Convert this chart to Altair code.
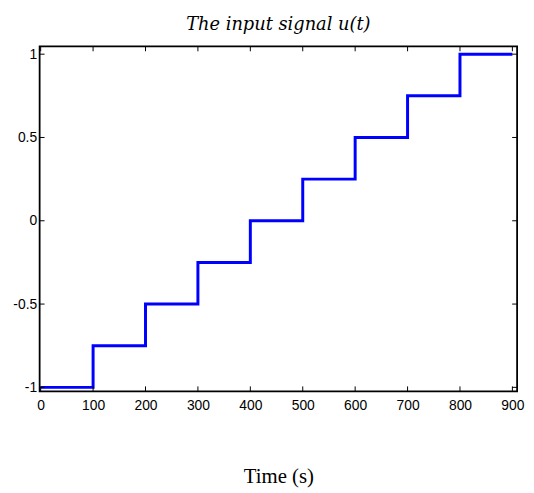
import altair as alt
import pandas as pd

# data
times = [0, 100, 200, 300, 400, 500, 600, 700, 800, 900]
values = [-1.0, -0.75, -0.5, -0.25, 0.0, 0.25, 0.5, 0.75, 1.0, 1.0]
x_ticks = [0, 100, 200, 300, 400, 500, 600, 700, 800, 900]
y_ticks = [-1, -0.5, 0, 0.5, 1]

W, H = 483, 349
PAD = {"left": 32, "top": 36, "right": 9, "bottom": 98}

df = pd.DataFrame({"t": times, "u": values})
xt = pd.DataFrame({"v": x_ticks})
yt = pd.DataFrame({"v": y_ticks})

xscale = alt.Scale(domain=[-2, 909], nice=False, zero=False)
yscale = alt.Scale(domain=[-1.024, 1.047], nice=False, zero=False)

line = alt.Chart(df).mark_line(color="#0000FF", strokeWidth=3, interpolate="step-after").encode(
    x=alt.X("t:Q", scale=xscale,
            axis=alt.Axis(values=x_ticks, title="Time (s)", domain=False, ticks=False, grid=False,
                          labelPadding=7, titlePadding=54, labelFont="Liberation Sans",
                          labelFontSize=14, labelColor="black", titleFont="Liberation Serif",
                          titleFontSize=21, titleFontWeight="normal", titleColor="black",
                          labelOverlap=False, labelExpr="toString(datum.value)")),
    y=alt.Y("u:Q", scale=yscale,
            axis=alt.Axis(values=y_ticks, title=None, domain=False, ticks=False, grid=False,
                          labelPadding=3, labelFont="Liberation Sans", labelFontSize=14,
                          labelColor="black", minExtent=0, labelOverlap=False,
                          labelExpr="toString(datum.value)")),
)

tick_len = 5
bottom = alt.Chart(xt).mark_rule(color="black", strokeWidth=1).encode(
    x=alt.X("v:Q", scale=xscale), y=alt.value(H), y2=alt.value(H - tick_len))
top = alt.Chart(xt).mark_rule(color="black", strokeWidth=1).encode(
    x=alt.X("v:Q", scale=xscale), y=alt.value(0), y2=alt.value(tick_len))
left = alt.Chart(yt).mark_rule(color="black", strokeWidth=1).encode(
    y=alt.Y("v:Q", scale=yscale), x=alt.value(0), x2=alt.value(tick_len))
right = alt.Chart(yt).mark_rule(color="black", strokeWidth=1).encode(
    y=alt.Y("v:Q", scale=yscale), x=alt.value(W), x2=alt.value(W - tick_len))

chart = alt.layer(line, bottom, top, left, right).properties(
    width=W, height=H,
    title=alt.TitleParams("The input signal u(t)", font="DejaVu Serif", fontStyle="italic",
                          fontSize=18, fontWeight="normal", color="black", offset=12),
    padding=PAD,
    autosize=alt.AutoSizeParams(type="none"),
    background="white",
).configure_view(stroke="black", strokeWidth=1.8)

chart.save("out.html", embed_options={"renderer": "svg", "actions": False})
